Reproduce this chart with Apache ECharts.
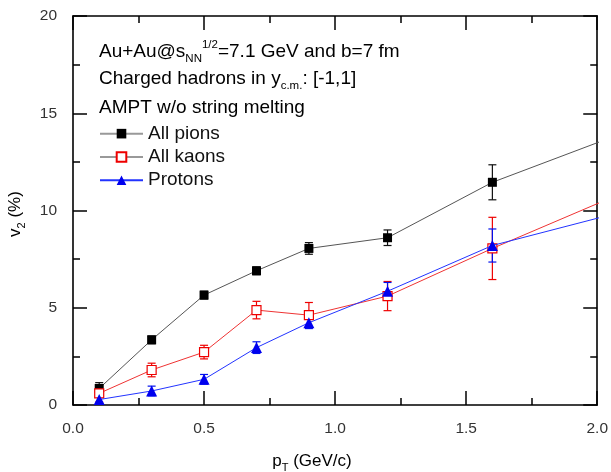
<!DOCTYPE html>
<html><head><meta charset="utf-8">
<script src="https://cdn.jsdelivr.net/npm/echarts@6/dist/echarts.min.js"></script>
<style>html,body{margin:0;padding:0;background:#fff}#c{width:611px;height:472px}</style>
</head><body><div id="c"></div>
<script>
// ---- data ----
const pT = [0.1, 0.3, 0.5, 0.7, 0.9, 1.2, 1.6, 2.2];
const pionsV2 = [0.85, 3.35, 5.65, 6.9, 8.05, 8.6, 11.45, 14.5];
const pionsErr = [0.3, 0.2, 0.2, 0.2, 0.3, 0.4, 0.9, 0];
const kaonsV2 = [0.6, 1.8, 2.72, 4.88, 4.62, 5.6, 8.05, 11.5];
const kaonsErr = [0.45, 0.35, 0.35, 0.45, 0.65, 0.75, 1.6, 0];
const protonsV2 = [0.28, 0.72, 1.32, 2.95, 4.23, 5.85, 8.2, 10.3];
const protonsErr = [0.2, 0.25, 0.25, 0.3, 0.3, 0.45, 0.85, 0];
const seriesNames = ['All pions', 'All kaons', 'Protons'];
const xRange = [0, 2, 0.5];
const yRange = [0, 20, 5];

const FONT = "'Liberation Sans', Arial, sans-serif";
const chart = echarts.init(document.getElementById('c'));

function pairs(vals) { return pT.map((x, i) => [x, vals[i]]); }
function errSeries(vals, errs, color) {
  return {
    type: 'custom', silent: true, z: 2, clip: true,
    encode: { x: 0, y: [1, 2] },
    data: pT.map((x, i) => [x, vals[i] - errs[i], vals[i] + errs[i]]).filter(d => d[2] > d[1]),
    renderItem(params, api) {
      const x = api.value(0);
      const lo = api.coord([x, api.value(1)]);
      const hi = api.coord([x, api.value(2)]);
      const w = 4;
      const st = { stroke: color, lineWidth: 1.2 };
      return { type: 'group', children: [
        { type: 'line', shape: { x1: lo[0], y1: lo[1], x2: hi[0], y2: hi[1] }, style: st },
        { type: 'line', shape: { x1: lo[0] - w, y1: lo[1], x2: lo[0] + w, y2: lo[1] }, style: st },
        { type: 'line', shape: { x1: hi[0] - w, y1: hi[1], x2: hi[0] + w, y2: hi[1] }, style: st }
      ] };
    }
  };
}

const tickCommon = {
  axisLine: { show: true, onZero: false, lineStyle: { color: '#000', width: 1.6 } },
  axisTick: { show: true, inside: true, length: 14, lineStyle: { color: '#000', width: 1.5 } },
  minorTick: { show: true, splitNumber: 2, length: 7, lineStyle: { color: '#000', width: 1.5 } },
  splitLine: { show: false }, minorSplitLine: { show: false }
};
const labelStyle = { color: '#333', fontSize: 15.5, fontFamily: FONT };

const rich = {
  n: { fontSize: 19, fontFamily: FONT, color: '#111', lineHeight: 26 },
  sub: { fontSize: 11.5, fontFamily: FONT, color: '#111', lineHeight: 12, verticalAlign: 'bottom' },
  sup: { fontSize: 11.5, fontFamily: FONT, color: '#111', lineHeight: 12, verticalAlign: 'top' }
};
const richT = {
  n: { fontSize: 17, fontFamily: FONT, color: '#111', lineHeight: 24 },
  sub: { fontSize: 11, fontFamily: FONT, color: '#111', lineHeight: 11, verticalAlign: 'bottom' }
};

chart.setOption({
  animation: false,
  backgroundColor: '#fff',
  grid: { left: 73, right: 13, top: 16, bottom: 67, containLabel: false },
  xAxis: [
    Object.assign({ type: 'value', position: 'bottom', min: xRange[0], max: xRange[1], interval: xRange[2],
      axisLabel: Object.assign({ margin: 16, formatter: v => v.toFixed(1) }, labelStyle) }, tickCommon),
    Object.assign({ type: 'value', position: 'top', min: xRange[0], max: xRange[1], interval: xRange[2],
      axisLabel: { show: false } }, tickCommon)
  ],
  yAxis: [
    Object.assign({ type: 'value', position: 'left', min: yRange[0], max: yRange[1], interval: yRange[2],
      axisLabel: Object.assign({ margin: 16 }, labelStyle) }, tickCommon),
    Object.assign({ type: 'value', position: 'right', min: yRange[0], max: yRange[1], interval: yRange[2],
      axisLabel: { show: false } }, tickCommon)
  ],
  legend: {
    orient: 'vertical', left: 99, top: 122, padding: 0, itemGap: 0,
    itemWidth: 43, itemHeight: 12,
    textStyle: { fontSize: 19, lineHeight: 23.3, color: '#111', fontFamily: FONT },
    data: [
      { name: seriesNames[0], lineStyle: { color: '#999' } },
      { name: seriesNames[1], lineStyle: { color: '#999' } },
      { name: seriesNames[2] }
    ]
  },
  graphic: [
    { type: 'text', left: 99, top: 39, style: { text: '{n|Au+Au@s}{sub|NN}{sup|1/2}{n|=7.1 GeV and b=7 fm}', rich: rich } },
    { type: 'text', left: 99, top: 69, style: { text: '{n|Charged hadrons in y}{sub|c.m.}{n|: [-1,1]}', rich: rich } },
    { type: 'text', left: 99, top: 98, style: { text: '{n|AMPT w/o string melting}', rich: rich } },
    { type: 'text', x: 312, y: 461, style: { text: '{n|p}{sub|T}{n| (GeV/c)}', rich: richT, align: 'center', verticalAlign: 'middle' } },
    { type: 'text', x: 15, y: 214, rotation: Math.PI / 2, style: { text: '{n|v}{sub|2}{n| (%)}', rich: richT, align: 'center', verticalAlign: 'middle' } }
  ],
  series: [
    errSeries(pionsV2, pionsErr, '#111'),
    errSeries(kaonsV2, kaonsErr, '#e00'),
    errSeries(protonsV2, protonsErr, '#0010ee'),
    { name: seriesNames[0], type: 'line', z: 4, clip: true, data: pairs(pionsV2), symbol: 'rect', symbolSize: 9,
      itemStyle: { color: '#000' }, lineStyle: { color: '#555', width: 1 } },
    { name: seriesNames[1], type: 'line', z: 4, clip: true, data: pairs(kaonsV2), symbol: 'rect', symbolSize: 9,
      itemStyle: { color: '#fff', borderColor: '#e00', borderWidth: 1.2 }, lineStyle: { color: '#e33', width: 1 } },
    { name: seriesNames[2], type: 'line', z: 5, clip: true, data: pairs(protonsV2), symbol: 'triangle', symbolSize: 11,
      itemStyle: { color: '#0000ee' }, lineStyle: { color: '#2233ff', width: 1 } }
  ]
});
</script></body></html>
